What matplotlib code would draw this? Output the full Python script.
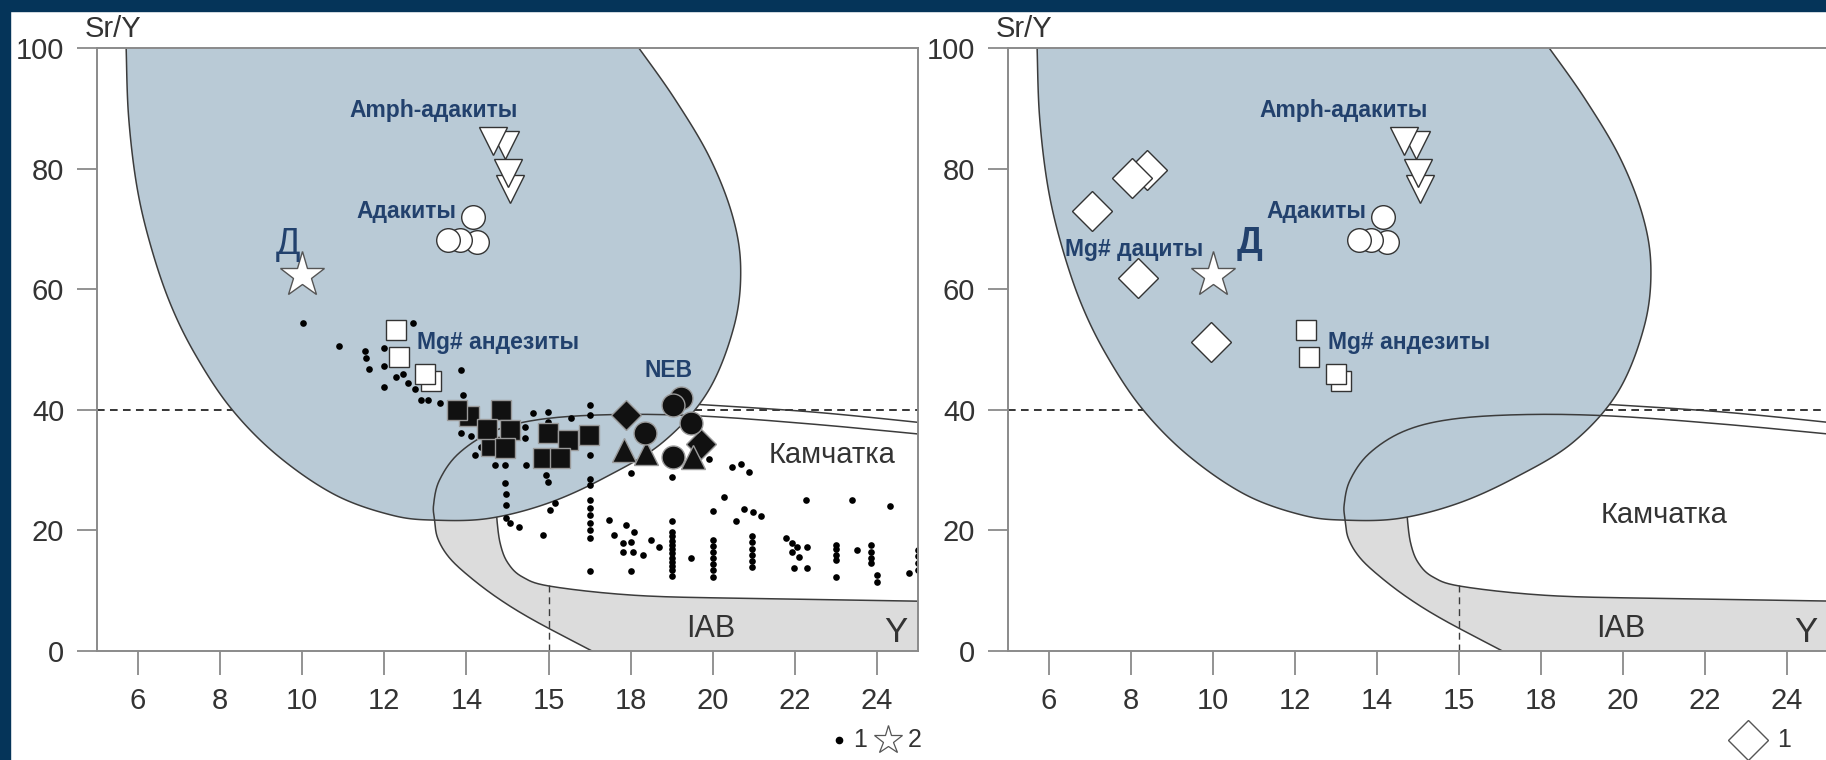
import numpy as np
import matplotlib.pyplot as plt
from matplotlib.patches import Rectangle

plt.rcParams['font.family'] = ['Liberation Sans', 'DejaVu Sans']

NAVY = '#053459'
FIELD_BLUE = '#b9cad6'
IAB_GRAY = '#dcdcdc'
LABEL_BLUE = '#22416d'
AXIS_GRAY = '#8a8a8a'
LINE_DARK = '#3c3c3c'

# x axis: Y, ppm (ticks as printed on the diagram)
xtick_pos = [6, 8, 10, 12, 14, 16, 18, 20, 22, 24]
xtick_labels = ['6', '8', '10', '12', '14', '15', '18', '20', '22', '24']
ytick_pos = [0, 20, 40, 60, 80, 100]

# ---- classification fields ----
# adakite field (open outline, closed above the frame)
adakite_x = [5.69, 5.71, 5.77, 5.97, 6.30, 6.78, 7.40, 8.27, 9.40, 10.80, 12.20, 13.25,
             14.55, 15.98, 17.38, 18.78, 19.88, 20.52, 20.68, 20.48, 19.92, 19.08, 18.20, 17.55]
adakite_y = [106, 100, 88.6, 77.1, 67.4, 57.7, 49.1, 40.2, 32.4, 25.9, 22.5, 21.7,
             22.0, 24.5, 28.8, 34.6, 43.0, 53.9, 63.5, 72.2, 81.9, 91.5, 100, 106]

# Kamchatka / IAB outer boundary, from the right frame round to the base
oval_x = [25.6, 22.48, 19.64, 17.50, 15.78, 14.64, 13.80, 13.34, 13.20, 13.22,
          13.30, 13.58, 14.08, 14.78, 15.64, 17.06]
oval_y = [35.6, 37.6, 39.0, 39.2, 38.4, 36.4, 32.7, 28.3, 24.3, 21.9,
          18.7, 15.5, 12.3, 8.7, 5.1, 0.0]

# inner edge of the IAB band
inner_x = [14.74, 14.74, 14.82, 15.00, 15.36, 16.08, 18.20, 21.06, 24.88, 25.6]
inner_y = [24.0, 22.0, 17.9, 14.7, 12.3, 10.7, 9.2, 8.7, 8.3, 8.2]

# upper boundary line right of the adakite field
upper_x = [19.40, 22.50, 25.60]
upper_y = [41.0, 39.6, 37.5]

# ---- left panel data ----
dots_x = [10.02, 10.89, 11.52, 11.56, 11.63, 11.99, 12.0, 11.99, 12.29, 12.46, 12.58, 12.7,
          12.75, 12.9, 13.06, 13.35, 13.87, 13.92, 13.6, 13.87, 14.12, 14.2, 14.36, 14.69,
          14.93, 14.93, 14.97, 14.97, 14.97, 15.05, 15.29, 15.86, 15.42, 15.42, 15.46, 15.62,
          15.98, 15.98, 15.94, 15.98, 16.15, 16.03, 16.55,
          17.0, 17.0, 17.0, 17.0, 17.0, 17.0, 17.0, 17.0, 17.0, 17.0, 17.0, 17.0,
          17.48, 17.89, 17.6, 18.09, 17.81, 18.0, 17.81, 18.06, 18.29, 18.5, 18.7, 18.01,
          18.01, 19.0,
          19.0, 19.0, 19.0, 19.0, 19.0, 19.0, 19.0, 19.0, 19.0, 19.0, 19.0, 19.0,
          19.47, 19.92, 20.0,
          20.0, 20.0, 20.0, 20.0, 20.0, 20.0, 20.0,
          20.28, 20.48, 20.7, 20.89, 20.57, 20.77, 20.97, 21.17,
          20.95, 20.95, 20.95, 20.95, 20.95, 20.95,
          21.78, 21.94, 22.06, 22.3, 21.94, 22.1, 21.98, 22.3, 22.27, 23.4, 24.33,
          23.0, 23.0, 23.0, 23.0, 23.0, 23.52,
          23.85, 23.85, 23.85, 23.85, 24.0, 24.0,
          24.78, 25.0, 25.0, 25.0, 25.0]
dots_y = [54.4, 50.6, 49.8, 48.6, 46.8, 50.2, 47.2, 43.8, 45.5, 46.0, 44.4, 54.4,
          43.5, 41.6, 41.6, 41.1, 46.6, 42.5, 40.5, 36.1, 35.6, 32.5, 33.9, 30.9,
          30.9, 27.8, 26.1, 24.2, 22.0, 21.3, 20.6, 19.2, 37.2, 35.3, 30.9, 39.4,
          39.7, 38.0, 29.2, 28.1, 24.5, 23.4, 38.6,
          40.8, 39.1, 32.5, 28.6, 27.5, 25.0, 23.8, 22.5, 21.2, 20.0, 18.8, 13.2,
          21.7, 20.9, 19.2, 19.8, 17.9, 18.1, 16.5, 16.5, 15.9, 18.4, 17.3, 13.2,
          29.5, 28.9,
          21.5, 19.8, 19.0, 18.3, 17.6, 16.9, 16.2, 15.5, 14.8, 14.1, 13.4, 12.5,
          15.4, 31.9, 23.3,
          18.4, 17.4, 16.4, 15.4, 14.4, 13.4, 12.3,
          25.6, 30.6, 31.0, 29.7, 21.5, 23.6, 23.0, 22.4,
          19.0, 18.0, 17.0, 16.0, 15.0, 14.0,
          18.7, 17.9, 17.3, 17.3, 16.5, 15.6, 13.7, 13.7, 25.0, 25.0, 24.0,
          17.6, 16.9, 16.0, 15.1, 12.3, 16.8,
          17.6, 16.5, 15.5, 14.6, 12.6, 11.5,
          12.9, 16.8, 15.7, 14.6, 13.5]

sq_black_x = [14.05, 13.77, 14.83, 14.6, 14.5, 15.05, 14.95, 15.98, 16.47, 16.99, 15.86, 16.27]
sq_black_y = [38.9, 40.0, 40.0, 34.0, 36.8, 36.7, 33.6, 36.1, 35.0, 35.8, 32.0, 32.0]
dm_black_x = [17.89, 19.71]
dm_black_y = [39.1, 34.4]
tr_black_x = [17.85, 18.38, 19.51]
tr_black_y = [33.3, 32.8, 32.2]
ci_black_x = [19.23, 19.02, 19.47, 18.34, 19.02]
ci_black_y = [41.9, 40.8, 37.8, 36.1, 32.2]

# ---- comparison groups (both panels) ----
mg_and_x = [13.13, 12.99, 12.35, 12.28]
mg_and_y = [44.8, 46.0, 48.8, 53.2]
adakite_pts_x = [14.15, 14.25, 13.85, 13.55]
adakite_pts_y = [71.9, 67.9, 68.1, 68.2]
amph_x = [14.95, 14.65, 15.05, 15.0]
amph_y = [84.0, 84.6, 76.7, 79.3]
star_x = [10.0]
star_y = [62.3]

# ---- right panel data ----
dacite_x = [8.39, 8.02, 7.05, 8.16, 9.95]
dacite_y = [79.8, 78.4, 73.0, 61.8, 51.2]


def smooth(xs, ys, n=24):
    # Catmull-Rom through the outline vertices
    p = np.column_stack([xs, ys]).astype(float)
    p = np.vstack([p[0], p, p[-1]])
    t = np.linspace(0, 1, n, endpoint=False)[:, None]
    out = []
    for i in range(1, len(p) - 2):
        p0, p1, p2, p3 = p[i - 1], p[i], p[i + 1], p[i + 2]
        out.append(0.5 * (2 * p1 + (-p0 + p2) * t
                          + (2 * p0 - 5 * p1 + 4 * p2 - p3) * t ** 2
                          + (-p0 + 3 * p1 - 3 * p2 + p3) * t ** 3))
    out.append(p[-2][None])
    s = np.vstack(out)
    return s[:, 0], s[:, 1]


def draw_fields(ax):
    ox, oy = smooth(oval_x, oval_y)
    ix, iy = smooth(inner_x, inner_y)
    ax_, ay_ = smooth(adakite_x, adakite_y)
    ux, uy = smooth(upper_x, upper_y)

    left_i = np.argmin(ox)
    gx = np.concatenate([ox[left_i:], [25.6, 25.6], ix[::-1]])
    gy = np.concatenate([oy[left_i:], [0.0, 8.2], iy[::-1]])
    ax.fill(gx, gy, color=IAB_GRAY, lw=0, zorder=1)
    ax.plot(ix, iy, color=LINE_DARK, lw=1.1, zorder=1.3)
    ax.plot(ux, uy, color=LINE_DARK, lw=1.1, zorder=1.3)
    ax.axhline(40, color='black', lw=1.1, ls=(0, (5, 3.5)), zorder=1.2)

    ax.fill(ax_, ay_, facecolor=FIELD_BLUE, edgecolor=LINE_DARK, lw=1.1, zorder=2)
    ax.plot(ox, oy, color=LINE_DARK, lw=1.1, zorder=2.3)
    ax.plot([xtick_pos[5]] * 2, [0, 11.2], color=LINE_DARK, lw=1.0,
            ls=(0, (5, 3.5)), zorder=2.3)

    ax.text(19.95, 3.6, 'IAB', fontsize=22, color='#333333', ha='center', va='center', zorder=5)
    ax.text(24.45, 3.0, 'Y', fontsize=25, color='#333333', ha='center', va='center', zorder=5)


def draw_groups(ax):
    ax.plot(mg_and_x, mg_and_y, ls='none', marker='s', ms=14.5, mfc='white',
            mec='#333333', mew=1.0, zorder=4)
    ax.plot(adakite_pts_x, adakite_pts_y, ls='none', marker='o', ms=17, mfc='white',
            mec='#333333', mew=1.0, zorder=4)
    ax.plot(amph_x, amph_y, ls='none', marker='v', ms=20, mfc='white',
            mec='#333333', mew=1.0, zorder=4)
    ax.plot(star_x, star_y, ls='none', marker='*', ms=34, mfc='white',
            mec='#555555', mew=1.0, zorder=4)
    lab = dict(color=LABEL_BLUE, fontsize=16.5, fontweight='bold', va='center', zorder=5)
    ax.text(13.19, 89.7, 'Amph-адакиты', ha='center', **lab)
    ax.text(12.53, 72.9, 'Адакиты', ha='center', **lab)
    ax.text(12.8, 51.2, 'Mg# андезиты', ha='left', **lab)


def style_axes(ax):
    ax.set_xlim(5, 25)
    ax.set_ylim(0, 100)
    ax.set_xticks(xtick_pos)
    ax.set_xticklabels(xtick_labels)
    ax.set_yticks(ytick_pos)
    for s in ax.spines.values():
        s.set_color(AXIS_GRAY)
        s.set_linewidth(1.4)
        s.set_zorder(6)
    ax.tick_params(axis='x', direction='out', length=17, width=1.3, color=AXIS_GRAY,
                   labelsize=21, labelcolor='#333333', pad=9)
    ax.tick_params(axis='y', direction='out', length=14.5, width=1.3, color=AXIS_GRAY,
                   labelsize=21, labelcolor='#333333', pad=9)
    ax.text(-0.015, 1.032, 'Sr/Y', transform=ax.transAxes, fontsize=21,
            color='#333333', ha='left', va='center')


fig = plt.figure(figsize=(18.26, 7.6), dpi=100, facecolor='white')
fig.patches.append(Rectangle((0, 0), 10 / 1826, 1, transform=fig.transFigure,
                             color=NAVY, zorder=-1))
fig.patches.append(Rectangle((0, 1 - 11 / 760), 1, 11 / 760, transform=fig.transFigure,
                             color=NAVY, zorder=-1))

# left panel
ax1 = fig.add_axes([97 / 1826, 0.1434, 821 / 1826, 0.7934])
draw_fields(ax1)
ax1.plot(dots_x, dots_y, ls='none', marker='o', ms=4.8, color='black', mew=0, zorder=3)
ax1.plot(sq_black_x, sq_black_y, ls='none', marker='s', ms=14.5, mfc='#111111',
         mec='#9a9a9a', mew=1.0, zorder=3.5)
ax1.plot(dm_black_x, dm_black_y, ls='none', marker='D', ms=15, mfc='#111111',
         mec='#9a9a9a', mew=1.0, zorder=3.5)
ax1.plot(tr_black_x, tr_black_y, ls='none', marker='^', ms=17, mfc='#111111',
         mec='#9a9a9a', mew=1.0, zorder=3.5)
ax1.plot(ci_black_x, ci_black_y, ls='none', marker='o', ms=16.5, mfc='#111111',
         mec='#9a9a9a', mew=1.0, zorder=3.6)
draw_groups(ax1)
ax1.text(9.64, 67.4, 'Д', fontsize=26, color=LABEL_BLUE, ha='center', va='center', zorder=5)
ax1.text(18.93, 46.6, 'NEB', fontsize=16.5, fontweight='bold', color=LABEL_BLUE,
         ha='center', va='center', zorder=5)
ax1.text(22.9, 32.5, 'Камчатка', fontsize=21, color='#333333', ha='center', va='center', zorder=5)
style_axes(ax1)
ax1.plot([0.904], [-0.148], transform=ax1.transAxes, clip_on=False, ls='none',
         marker='o', ms=4.5, color='black')
ax1.text(0.929, -0.148, '1', transform=ax1.transAxes, fontsize=18, color='#333333',
         ha='center', va='center')
ax1.plot([0.963], [-0.148], transform=ax1.transAxes, clip_on=False, ls='none',
         marker='*', ms=21, mfc='white', mec='#555555', mew=0.9)
ax1.text(0.996, -0.148, '2', transform=ax1.transAxes, fontsize=18, color='#333333',
         ha='center', va='center')

# right panel
ax2 = fig.add_axes([1008 / 1826, 0.1434, 820 / 1826, 0.7934])
draw_fields(ax2)
ax2.plot(dacite_x, dacite_y, ls='none', marker='D', ms=20, mfc='white',
         mec='#333333', mew=1.0, zorder=4)
draw_groups(ax2)
ax2.text(8.08, 66.6, 'Mg# дациты', fontsize=16.5, fontweight='bold', color=LABEL_BLUE,
         ha='center', va='center', zorder=5)
ax2.text(10.9, 67.6, 'Д', fontsize=26, fontweight='bold', color=LABEL_BLUE,
         ha='center', va='center', zorder=5)
ax2.text(21.0, 22.6, 'Камчатка', fontsize=21, color='#333333', ha='center', va='center', zorder=5)
style_axes(ax2)
ax2.plot([0.903], [-0.148], transform=ax2.transAxes, clip_on=False, ls='none',
         marker='D', ms=20, mfc='white', mec='#555555', mew=1.0)
ax2.text(0.946, -0.148, '1', transform=ax2.transAxes, fontsize=18, color='#333333',
         ha='center', va='center')

fig.savefig('out.png', dpi=100, facecolor=fig.get_facecolor())
